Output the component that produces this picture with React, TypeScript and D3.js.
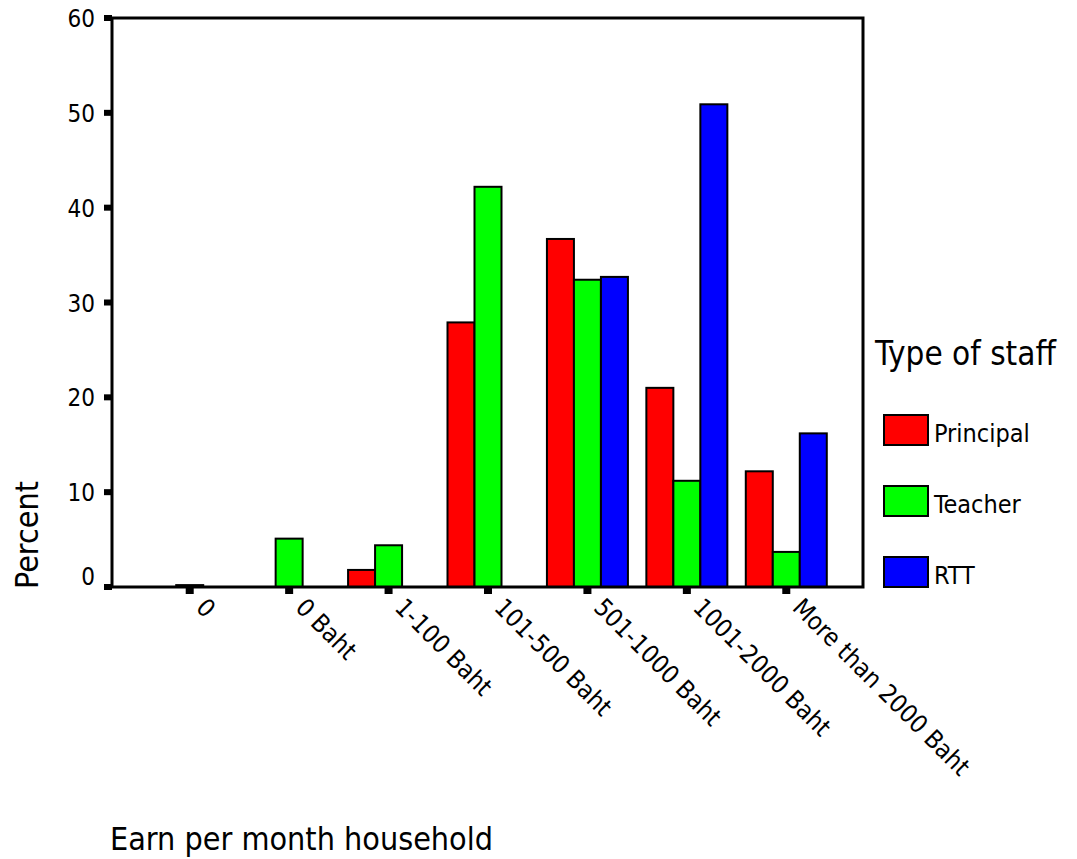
import React from "react";
import * as d3 from "d3";

const categories = ["0", "0 Baht", "1-100 Baht", "101-500 Baht", "501-1000 Baht", "1001-2000 Baht", "More than 2000 Baht"];
const seriesNames = ["Principal", "Teacher", "RTT"];
const principal = [0, 0, 1.8, 27.9, 36.7, 21.0, 12.2];
const teacher = [0.2, 5.1, 4.4, 42.2, 32.4, 11.2, 3.7];
const rtt = [0, 0, 0, 0, 32.7, 50.9, 16.2];
const yTicks = [0, 10, 20, 30, 40, 50, 60];
const colors = ["#ff0000", "#00ff00", "#0000ff"];

export default function App() {
  const W = 1077, H = 859;
  const left = 112, right = 863, top = 18, bottom = 587;
  const y = d3.scaleLinear().domain([0, 60]).range([bottom, top]);
  const x = d3.scaleBand().domain(categories).range([140, 836]).paddingInner(0).paddingOuter(0);
  const bw = 27;
  const series = [principal, teacher, rtt];
  const font = "'DejaVu Sans Condensed', 'DejaVu Sans', sans-serif";
  return (
    <svg width={W} height={H} style={{ position: "absolute", left: 0, top: 0, background: "#fff" }} fontFamily={font}>
      {categories.map((c, i) => {
        const cx = (x(c) as number) + x.bandwidth() / 2;
        return series.map((s, k) => {
          const v = s[i];
          if (!v) return null;
          const bx = cx - 1.5 * bw + k * bw;
          return (
            <rect key={c + k} x={bx} y={y(v)} width={bw} height={y(0) - y(v)} fill={colors[k]} stroke="#000" strokeWidth={2} />
          );
        });
      })}
      <path d={`M${left},${bottom}V${top}H${right}V${bottom}H${left}`} fill="none" stroke="#000" strokeWidth={3} />
      {yTicks.map((t) => (
        <g key={t}>
          <rect x={left - 8} y={y(t) - 3} width={8} height={6} fill="#000" />
          <text x={95} y={t === 0 ? y(t) - 2 : y(t) + 9} textAnchor="end" fontSize={24} fill="#000">{t}</text>
        </g>
      ))}
      {categories.map((c) => {
        const cx = (x(c) as number) + x.bandwidth() / 2;
        return (
          <g key={c}>
            <rect x={cx - 4} y={bottom} width={8} height={7} fill="#000" />
            <text transform={`translate(${cx + 5},${bottom + 22}) rotate(45)`} fontSize={25} fill="#000">{c}</text>
          </g>
        );
      })}
      <text transform={`translate(38,535) rotate(-90)`} textAnchor="middle" fontSize={32} fill="#000">Percent</text>
      <text x={110} y={850} fontSize={32} fill="#000">Earn per month household</text>
      <text x={875} y={365} fontSize={33} fill="#000">Type of staff</text>
      {seriesNames.map((n, k) => (
        <g key={n}>
          <rect x={884} y={415 + k * 71} width={44} height={30} fill={colors[k]} stroke="#000" strokeWidth={2} />
          <text x={934} y={442 + k * 71} fontSize={25} fill="#000">{n}</text>
        </g>
      ))}
    </svg>
  );
}
